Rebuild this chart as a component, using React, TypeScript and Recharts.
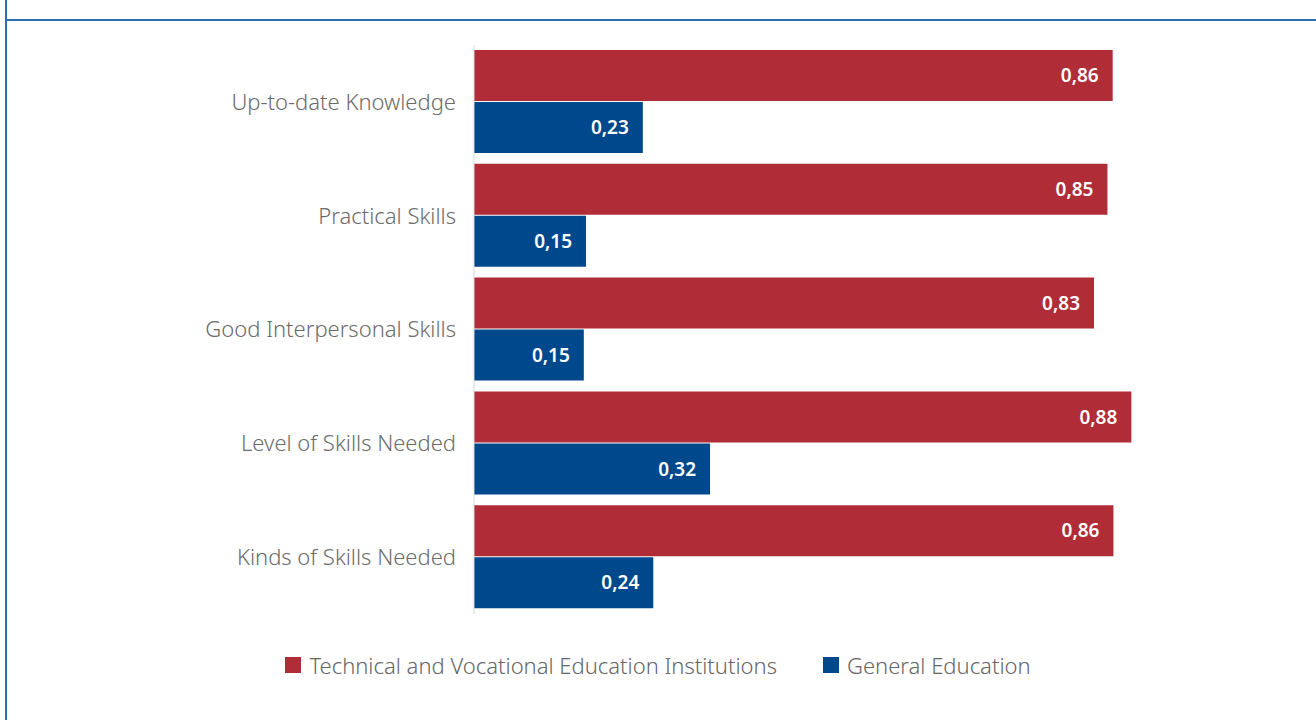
import React from "react";
import { Bar, BarChart, LabelList, Legend, XAxis, YAxis } from "recharts";

const categories = [
  "Up-to-date Knowledge",
  "Practical Skills",
  "Good Interpersonal Skills",
  "Level of Skills Needed",
  "Kinds of Skills Needed",
];
const tveValues = [0.855, 0.848, 0.83, 0.88, 0.856];
const generalValues = [0.226, 0.15, 0.147, 0.316, 0.24];
const seriesNames = ["Technical and Vocational Education Institutions", "General Education"];

const RED = "#b02d37";
const BLUE = "#00488c";

const data = categories.map((name, i) => ({
  name,
  tve: tveValues[i],
  general: generalValues[i],
}));

const fmt = (v: number) => (Math.round(v * 100) / 100).toFixed(2).replace(".", ",");

function LegendContent() {
  const items = [
    { label: seriesNames[0], color: RED },
    { label: seriesNames[1], color: BLUE },
  ];
  return (
    <div style={{ display: "flex", justifyContent: "center", gap: 46, fontFamily: "'Noto Sans', sans-serif", fontSize: 22, fontWeight: 300, color: "#666" }}>
      {items.map((it) => (
        <div key={it.label} style={{ display: "flex", alignItems: "center" }}>
          <span style={{ display: "inline-block", width: 16, height: 16, background: it.color, marginRight: 8 }} />
          <span>{it.label}</span>
        </div>
      ))}
    </div>
  );
}

export default function App() {
  return (
    <div style={{ position: "absolute", left: 0, top: 0, width: 1316, height: 720, background: "#fff", overflow: "hidden" }}>
      <div style={{ position: "absolute", left: 5, top: 0, width: 2, height: 720, background: "#2f6db3" }} />
      <div style={{ position: "absolute", left: 5, top: 19, width: 1311, height: 2, background: "#2f6db3" }} />
      <BarChart
        width={1316}
        height={720}
        data={data}
        layout="vertical"
        margin={{ top: 45, right: 95, left: 0, bottom: 76 }}
        barGap={1}
        style={{ position: "absolute", left: 0, top: 0 }}
      >
        <XAxis type="number" domain={[0, 1]} hide />
        <YAxis
          type="category"
          dataKey="name"
          width={474}
          axisLine={{ stroke: "#d9d9d9" }}
          tickLine={false}
          tickMargin={12}
          tick={{ fill: "#6b6b6b", fontSize: 22, fontWeight: 300, fontFamily: "'Noto Sans', sans-serif" }}
        />
        <Legend
          verticalAlign="bottom"
          content={<LegendContent />}
          wrapperStyle={{ top: 650, left: 0, width: 1316 }}
        />
        <Bar dataKey="tve" name={seriesNames[0]} fill={RED} barSize={51} isAnimationActive={false}>
          <LabelList
            dataKey="tve"
            position="insideRight"
            offset={14}
            formatter={(v: number) => fmt(v)}
            style={{ fill: "#fff", fontSize: 19, fontWeight: 600, fontFamily: "'Noto Sans', sans-serif" }}
          />
        </Bar>
        <Bar dataKey="general" name={seriesNames[1]} fill={BLUE} barSize={51} isAnimationActive={false}>
          <LabelList
            dataKey="general"
            position="insideRight"
            offset={14}
            formatter={(v: number) => fmt(v)}
            style={{ fill: "#fff", fontSize: 19, fontWeight: 600, fontFamily: "'Noto Sans', sans-serif" }}
          />
        </Bar>
      </BarChart>
    </div>
  );
}
